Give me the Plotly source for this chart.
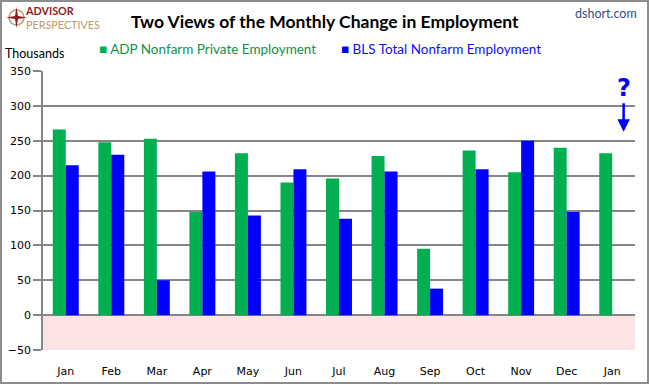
import plotly.graph_objects as go

months = ["Jan", "Feb", "Mar", "Apr", "May", "Jun", "Jul", "Aug", "Sep", "Oct", "Nov", "Dec", "Jan"]
adp = [266, 248, 253, 148, 232, 190, 196, 228, 95, 236, 205, 240, 232]
bls = [215, 230, 50, 206, 143, 209, 138, 206, 38, 209, 250, 148, None]
y_ticks = [-50, 0, 50, 100, 150, 200, 250, 300, 350]

GREEN = "#00B050"
BLUE = "#0000FF"
GRID = "#868686"

L, R, T, B = 43, 14, 71, 34
W, H = 649, 384
PW, PH = W - L - R, H - T - B


def px(x):
    return (x - L) / PW


def py(y):
    return (H - B - y) / PH


xs = list(range(len(months)))

fig = go.Figure()
fig.add_trace(go.Bar(x=xs, y=adp, name="ADP Nonfarm Private Employment",
                     marker=dict(color=GREEN, line=dict(width=0))))
fig.add_trace(go.Bar(x=xs, y=bls, name="BLS Total Nonfarm Employment",
                     marker=dict(color=BLUE, line=dict(width=0))))

shapes = [
    # pink negative zone
    dict(type="rect", xref="paper", yref="y", x0=0, x1=1, y0=-50, y1=0,
         fillcolor="#FDE4E4", line=dict(width=0), layer="below"),
    # outer frame
    dict(type="rect", xref="paper", yref="paper", x0=px(1), x1=px(W - 1), y0=py(H - 1), y1=py(1),
         line=dict(color="#8C8C8C", width=2), fillcolor="rgba(0,0,0,0)", layer="above"),
    # logo compass circle
    dict(type="circle", xref="paper", yref="paper", x0=px(9), x1=px(24), y0=py(25), y1=py(10),
         line=dict(color="#B89B6E", width=1.5), fillcolor="rgba(0,0,0,0)"),
    # logo star
    dict(type="path", xref="paper", yref="paper",
         path="M {a},{b} L {c},{d} L {e},{f} L {g},{h} L {a2},{b2} L {i},{j} L {k},{l} L {m},{n} Z".format(
             a=px(16.5), b=py(7), c=px(18), d=py(16), e=px(27), f=py(17.5), g=px(18), h=py(19),
             a2=px(16.5), b2=py(28), i=px(15), j=py(19), k=px(6), l=py(17.5), m=px(15), n=py(16)),
         fillcolor="#8B1E1E", line=dict(width=0)),
]

annotations = [
    dict(text="<b>Two Views of the Monthly Change in Employment</b>", xref="paper", yref="paper",
         x=px(325), y=py(21), showarrow=False, font=dict(family="Lato", size=17.5, color="#000000"),
         xanchor="center", yanchor="middle"),
    dict(text="<b><span style='color:#8B1E1E'>ADVISOR</span></b><br>"
              "<span style='color:#B89B6E'>PERSPECTIVES</span>",
         xref="paper", yref="paper", x=px(23), y=py(17.5), showarrow=False, align="left",
         font=dict(family="Lato", size=10.8, color="#B89B6E"), xanchor="left", yanchor="middle"),
    dict(text="dshort.com", xref="paper", yref="paper", x=px(639), y=py(14), showarrow=False,
         font=dict(family="Lato", size=12.5, color="#2F4F7F"), xanchor="right", yanchor="middle"),
    dict(text="Thousands", xref="paper", yref="paper", x=px(3), y=py(54), showarrow=False,
         font=dict(family="Lato", size=12.5, color="#000000"), xanchor="left", yanchor="middle"),
    dict(text="<span style='color:%s'>■</span> ADP Nonfarm Private Employment" % GREEN,
         xref="paper", yref="paper", x=px(97), y=py(49), showarrow=False,
         font=dict(family="Lato", size=13.5, color="#10904A"), xanchor="left", yanchor="middle"),
    dict(text="<span style='color:%s'>■</span> BLS Total Nonfarm Employment" % BLUE,
         xref="paper", yref="paper", x=px(339), y=py(49), showarrow=False,
         font=dict(family="Lato", size=13.5, color="#1010F0"), xanchor="left", yanchor="middle"),
    dict(text="<b>?</b>", x=12.25, y=263, xref="x", yref="y", showarrow=True, ax=0, ay=-44,
         arrowhead=2, arrowsize=1, arrowwidth=2.5, arrowcolor=BLUE,
         font=dict(family="DejaVu Sans", size=24, color=BLUE)),
]

fig.update_layout(
    width=W, height=H,
    margin=dict(l=L, r=R, t=T, b=B, autoexpand=False),
    paper_bgcolor="white", plot_bgcolor="white",
    barmode="group", bargap=0.43, bargroupgap=0,
    showlegend=False,
    shapes=shapes, annotations=annotations,
    font=dict(family="DejaVu Sans", size=11, color="#000000"),
)
fig.update_xaxes(range=[-0.5, len(months) - 0.5], tickmode="array", tickvals=xs, ticktext=months,
                 showgrid=False, showline=False, ticks="outside", ticklen=11,
                 tickcolor="rgba(0,0,0,0)", zeroline=False, automargin=False,
                 tickfont=dict(family="DejaVu Sans", size=11, color="#000000"))
fig.update_yaxes(range=[-50, 350], tickmode="array", tickvals=y_ticks,
                 showgrid=True, gridcolor=GRID, gridwidth=1.5,
                 showline=True, linecolor=GRID, linewidth=1.5,
                 ticks="outside", ticklen=8, tickcolor=GRID, tickwidth=1.5,
                 zeroline=False, automargin=False,
                 tickfont=dict(family="DejaVu Sans", size=11, color="#000000"))

fig.write_html("out.html", config={"displayModeBar": False},
               post_script="document.body.style.margin='0';document.body.style.overflow='hidden';")
